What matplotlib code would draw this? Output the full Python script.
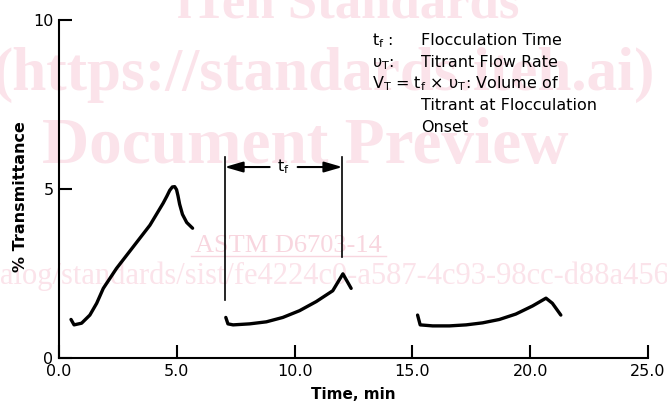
import matplotlib
matplotlib.use("Agg")
import matplotlib.pyplot as plt

plt.rcParams['font.family'] = ['DejaVu Sans']
plt.rcParams['mathtext.default'] = 'regular'

# ---- data ----
run1_time = [0.51, 0.64, 0.96, 1.31, 1.60, 1.88, 2.44, 3.15, 3.86, 4.42, 4.58, 4.70, 4.81, 4.91, 4.99, 5.05, 5.12, 5.24, 5.42, 5.67]
run1_trans = [1.14, 0.98, 1.03, 1.27, 1.62, 2.06, 2.65, 3.29, 3.93, 4.58, 4.79, 4.96, 5.06, 5.07, 4.98, 4.80, 4.55, 4.25, 4.01, 3.84]

run2_time = [7.08, 7.17, 7.39, 8.09, 8.80, 9.50, 10.21, 10.92, 11.62, 12.05, 12.40]
run2_trans = [1.20, 1.01, 0.98, 1.01, 1.07, 1.20, 1.40, 1.67, 1.99, 2.49, 2.06]

run3_time = [15.22, 15.33, 15.86, 16.57, 17.28, 17.98, 18.69, 19.39, 20.10, 20.67, 20.94, 21.30]
run3_trans = [1.27, 0.98, 0.95, 0.95, 0.98, 1.04, 1.14, 1.30, 1.54, 1.77, 1.62, 1.27]

# flocculation-time marker (run 2)
tf_start = 7.03
tf_end = 12.03
tf_start_range = (1.72, 5.95)
tf_end_range = (2.99, 5.95)
tf_arrow_y = 5.65
tf_gap = (8.94, 10.13)

x_ticks = [0, 5, 10, 15, 20, 25]
x_ticklabels = ['0.0', '5.0', '10.0', '15.0', '20.0', '25.0']
y_ticks = [0, 5, 10]
y_ticklabels = ['0', '5', '10']

W, H = 667, 403
fig = plt.figure(figsize=(W / 100, H / 100), dpi=100)

def fx(px):
    return px / W

def fy(py):
    return 1 - py / H

# ---- watermark (behind everything) ----
wm = '#fbe3ea'
wm2 = '#f8d6df'
fig.text(fx(348), fy(17), 'iTeh Standards', family='Liberation Serif', weight='bold',
         fontsize=38, color=wm, ha='center', va='baseline', zorder=0)
fig.text(fx(324), fy(90), '(https://standards.iteh.ai)', family='Liberation Serif', weight='bold',
         fontsize=44, color=wm, ha='center', va='baseline', zorder=0)
fig.text(fx(305), fy(163), 'Document Preview', family='Liberation Serif', weight='bold',
         fontsize=47, color=wm, ha='center', va='baseline', zorder=0)
fig.text(fx(288), fy(252), 'ASTM D6703-14', family='Liberation Serif',
         fontsize=19, color=wm2, ha='center', va='baseline', zorder=0)
fig.add_artist(plt.Line2D([fx(191), fx(386)], [fy(256), fy(256)], color=wm2, lw=1.0, zorder=0))
fig.text(fx(669), fy(284), 'https://standards.iteh.ai/catalog/standards/sist/fe4224c0-a587-4c93-98cc-d88a456',
         family='Liberation Serif', fontsize=22, color=wm, ha='right', va='baseline', zorder=0)

# ---- axes ----
ax = fig.add_axes([fx(59), fy(358), (648 - 59) / W, (358 - 20) / H])
ax.set_facecolor('none')
ax.set_zorder(2)
ax.set_xlim(0, 25)
ax.set_ylim(0, 10)

for s in ['top', 'right']:
    ax.spines[s].set_visible(False)
for s in ['left', 'bottom']:
    ax.spines[s].set_linewidth(1.5)

ax.set_xticks(x_ticks)
ax.set_xticklabels(x_ticklabels)
ax.set_yticks(y_ticks)
ax.set_yticklabels(y_ticklabels)
ax.tick_params(direction='in', length=9.5, width=1.5, labelsize=11.5, colors='black')
ax.tick_params(axis='x', pad=4)
ax.tick_params(axis='y', pad=4)

ax.set_xlabel('Time, min', fontsize=11, fontweight='bold')
ax.xaxis.set_label_coords(0.5, -0.086)
ax.set_ylabel('% Transmittance', fontsize=11.5, fontweight='bold')
ax.yaxis.set_label_coords(-0.052, 0.478)

lw_curve = 2.4
for xs, ys in [(run1_time, run1_trans), (run2_time, run2_trans), (run3_time, run3_trans)]:
    ax.plot(xs, ys, color='black', lw=lw_curve, solid_joinstyle='round',
            solid_capstyle='round', clip_on=False)

# flocculation-time bracket
ax.plot([tf_start, tf_start], tf_start_range, color='black', lw=1.2)
ax.plot([tf_end, tf_end], tf_end_range, color='black', lw=1.2)
arrow_kw = dict(arrowstyle='-|>,head_length=1.1,head_width=0.32', color='black', lw=1.5,
                shrinkA=0, shrinkB=0, mutation_scale=10)
ax.annotate('', xy=(tf_start, tf_arrow_y), xytext=(tf_gap[0], tf_arrow_y), arrowprops=arrow_kw)
ax.annotate('', xy=(tf_end, tf_arrow_y), xytext=(tf_gap[1], tf_arrow_y), arrowprops=arrow_kw)
ax.text((tf_gap[0] + tf_gap[1]) / 2, tf_arrow_y, 't$_\\mathregular{f}$', ha='center', va='center',
        fontsize=11.5)

# ---- definitions text ----
fs = 11.5
col1, col2 = 372, 421
fig.text(fx(col1), fy(45), 't$_\\mathregular{f}$ :', fontsize=fs, va='baseline', zorder=3)
fig.text(fx(col2), fy(45), 'Flocculation Time', fontsize=fs, va='baseline', zorder=3)
fig.text(fx(col1), fy(67), 'υ$_\\mathregular{T}$:', fontsize=fs, va='baseline', zorder=3)
fig.text(fx(col2), fy(67), 'Titrant Flow Rate', fontsize=fs, va='baseline', zorder=3)
fig.text(fx(col1), fy(88), 'V$_\\mathregular{T}$ = t$_\\mathregular{f}$ × υ$_\\mathregular{T}$: Volume of',
         fontsize=fs, va='baseline', zorder=3)
fig.text(fx(col2), fy(110), 'Titrant at Flocculation', fontsize=fs, va='baseline', zorder=3)
fig.text(fx(col2), fy(132), 'Onset', fontsize=fs, va='baseline', zorder=3)

fig.savefig('out.png', dpi=100)
